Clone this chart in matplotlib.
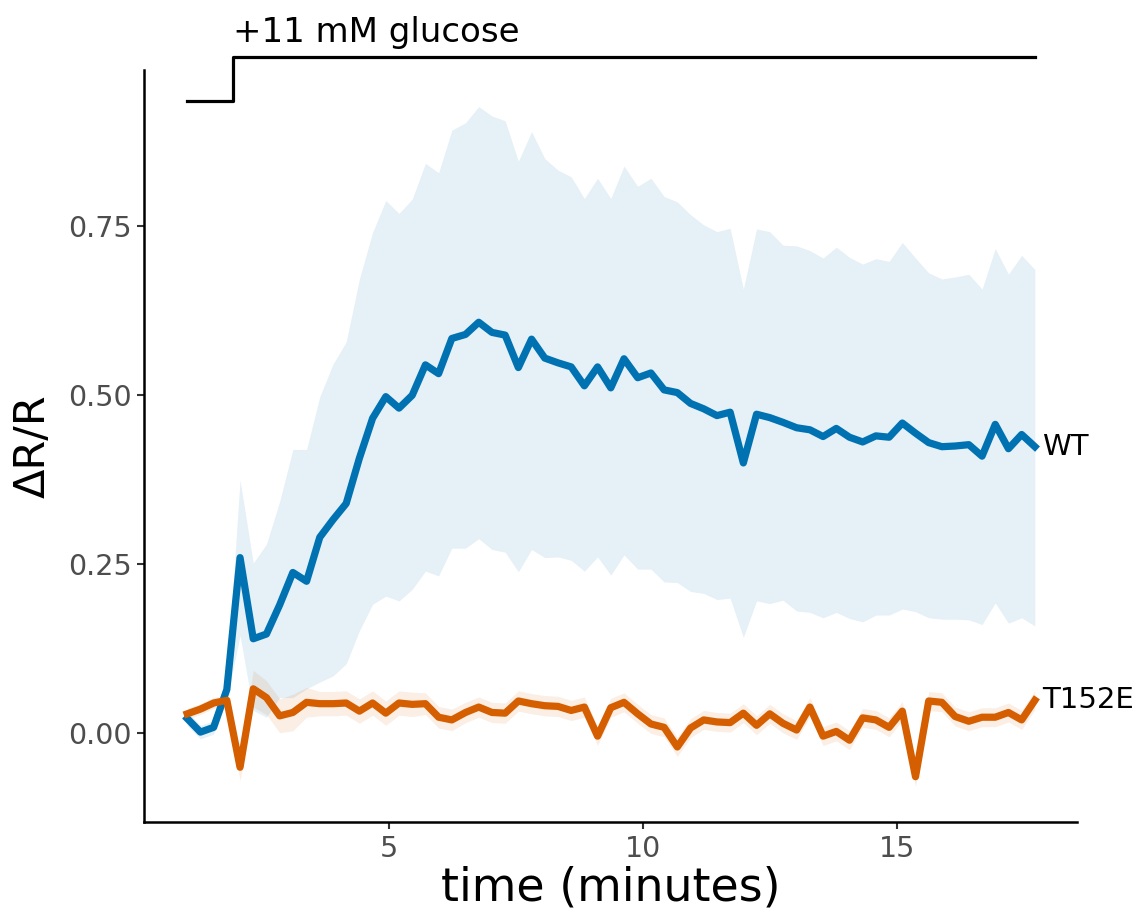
import numpy as np
import matplotlib.pyplot as plt

# sampling times (minutes)
time = [1.02, 1.28, 1.54, 1.80, 2.06, 2.32, 2.58, 2.84, 3.10, 3.37,
        3.63, 3.89, 4.15, 4.41, 4.67, 4.93, 5.19, 5.45, 5.71, 5.97,
        6.23, 6.50, 6.76, 7.02, 7.28, 7.54, 7.80, 8.06, 8.32, 8.58,
        8.84, 9.10, 9.36, 9.62, 9.89, 10.15, 10.41, 10.67, 10.93, 11.19,
        11.45, 11.71, 11.97, 12.23, 12.49, 12.75, 13.02, 13.28, 13.54, 13.80,
        14.06, 14.32, 14.58, 14.84, 15.10, 15.36, 15.62, 15.88, 16.14, 16.41,
        16.67, 16.93, 17.19, 17.45, 17.71]

wt_mean = [0.022, 0.002, 0.009, 0.065, 0.260, 0.140, 0.147, 0.190, 0.238, 0.225,
           0.290, 0.316, 0.340, 0.407, 0.466, 0.498, 0.481, 0.500, 0.545, 0.532,
           0.584, 0.590, 0.608, 0.593, 0.589, 0.541, 0.583, 0.555, 0.548, 0.542,
           0.514, 0.542, 0.511, 0.554, 0.526, 0.533, 0.508, 0.504, 0.488, 0.480,
           0.470, 0.475, 0.400, 0.472, 0.467, 0.460, 0.452, 0.449, 0.439, 0.451,
           0.438, 0.431, 0.440, 0.438, 0.459, 0.444, 0.430, 0.424, 0.425, 0.427,
           0.410, 0.457, 0.421, 0.442, 0.424]
wt_upper = [0.032, 0.012, 0.019, 0.080, 0.375, 0.252, 0.280, 0.343, 0.420, 0.420,
            0.498, 0.546, 0.579, 0.672, 0.741, 0.788, 0.769, 0.790, 0.843, 0.829,
            0.892, 0.903, 0.927, 0.913, 0.906, 0.846, 0.890, 0.850, 0.833, 0.823,
            0.791, 0.821, 0.791, 0.839, 0.809, 0.821, 0.794, 0.786, 0.767, 0.752,
            0.742, 0.747, 0.657, 0.746, 0.742, 0.722, 0.721, 0.714, 0.703, 0.719,
            0.704, 0.694, 0.702, 0.698, 0.726, 0.703, 0.681, 0.672, 0.675, 0.679,
            0.657, 0.717, 0.679, 0.707, 0.686]
wt_lower = [0.012, -0.008, -0.001, 0.050, 0.145, 0.034, 0.024, 0.053, 0.053, 0.066,
            0.076, 0.085, 0.103, 0.152, 0.191, 0.203, 0.196, 0.213, 0.240, 0.233,
            0.274, 0.274, 0.288, 0.272, 0.268, 0.239, 0.272, 0.260, 0.261, 0.256,
            0.240, 0.261, 0.234, 0.264, 0.243, 0.243, 0.224, 0.223, 0.210, 0.207,
            0.198, 0.200, 0.142, 0.196, 0.192, 0.197, 0.181, 0.179, 0.171, 0.179,
            0.170, 0.165, 0.175, 0.175, 0.184, 0.180, 0.171, 0.169, 0.169, 0.168,
            0.161, 0.193, 0.163, 0.171, 0.159]

t152e_mean = [0.029, 0.036, 0.045, 0.049, -0.050, 0.066, 0.053, 0.026, 0.031, 0.046,
              0.044, 0.044, 0.045, 0.033, 0.045, 0.030, 0.045, 0.043, 0.044, 0.024,
              0.020, 0.031, 0.039, 0.031, 0.030, 0.048, 0.044, 0.041, 0.040, 0.034,
              0.039, -0.004, 0.038, 0.046, 0.029, 0.014, 0.009, -0.020, 0.008, 0.020,
              0.017, 0.016, 0.030, 0.012, 0.029, 0.015, 0.005, 0.039, -0.004, 0.003,
              -0.010, 0.023, 0.020, 0.009, 0.033, -0.064, 0.048, 0.046, 0.025, 0.018,
              0.024, 0.024, 0.031, 0.020, 0.049]
t152e_sem = [0.008, 0.008, 0.008, 0.008, 0.020, 0.027, 0.025, 0.025, 0.027, 0.022,
             0.018, 0.018, 0.018, 0.018, 0.018, 0.018, 0.018, 0.018, 0.016, 0.016,
             0.016, 0.015, 0.015, 0.015, 0.015, 0.015, 0.015, 0.015, 0.015, 0.015,
             0.015, 0.014, 0.014, 0.014, 0.014, 0.014, 0.014, 0.014, 0.014, 0.014,
             0.014, 0.014, 0.014, 0.014, 0.014, 0.014, 0.014, 0.014, 0.014, 0.014,
             0.014, 0.014, 0.014, 0.014, 0.014, 0.015, 0.014, 0.014, 0.014, 0.014,
             0.014, 0.014, 0.014, 0.014, 0.014]

# glucose stimulus trace
stim_t = [1.02, 1.93, 1.93, 17.71]
stim_y = [0.935, 0.935, 1.0, 1.0]

blue = "#0072B2"
orange = "#D55E00"

t = np.array(time)
t152e_mean = np.array(t152e_mean)
t152e_sem = np.array(t152e_sem)

fig = plt.figure(figsize=(11.46, 9.15), dpi=100)
ax = fig.add_axes([0.1257, 0.1016, 0.8141, 0.8219])

ax.fill_between(t, wt_lower, wt_upper, color=blue, alpha=0.1, lw=0)
ax.fill_between(t, t152e_mean - t152e_sem, t152e_mean + t152e_sem,
                color=orange, alpha=0.1, lw=0)
ax.plot(t, wt_mean, color=blue, lw=5.2, solid_joinstyle="round")
ax.plot(t, t152e_mean, color=orange, lw=5.2, solid_joinstyle="round")

ax.text(t[-1] + 0.15, wt_mean[-1], "WT", fontsize=21, va="center", ha="left")
ax.text(t[-1] + 0.15, t152e_mean[-1], "T152E", fontsize=21, va="center", ha="left")

ax.plot(stim_t, stim_y, color="black", lw=2.3, clip_on=False)
ax.text(stim_t[1], 1.023, "+11 mM glucose", fontsize=24.5, ha="left", va="baseline")

ax.set_xlim(0.17, 18.54)
ax.set_ylim(-0.131, 0.981)
ax.set_xticks([5, 10, 15])
ax.set_yticks([0, 0.25, 0.5, 0.75])
ax.set_yticklabels(["0.00", "0.25", "0.50", "0.75"])

for s in ["top", "right"]:
    ax.spines[s].set_visible(False)
for s in ["left", "bottom"]:
    ax.spines[s].set_linewidth(1.8)
ax.tick_params(length=5, width=1.5, color="#333333", labelcolor="#4d4d4d",
               labelsize=20.5, pad=4)

ax.set_xlabel("time (minutes)", fontsize=33, labelpad=2)
ax.set_ylabel("ΔR/R", fontsize=31, labelpad=10)

fig.savefig("out.png", dpi=100)
